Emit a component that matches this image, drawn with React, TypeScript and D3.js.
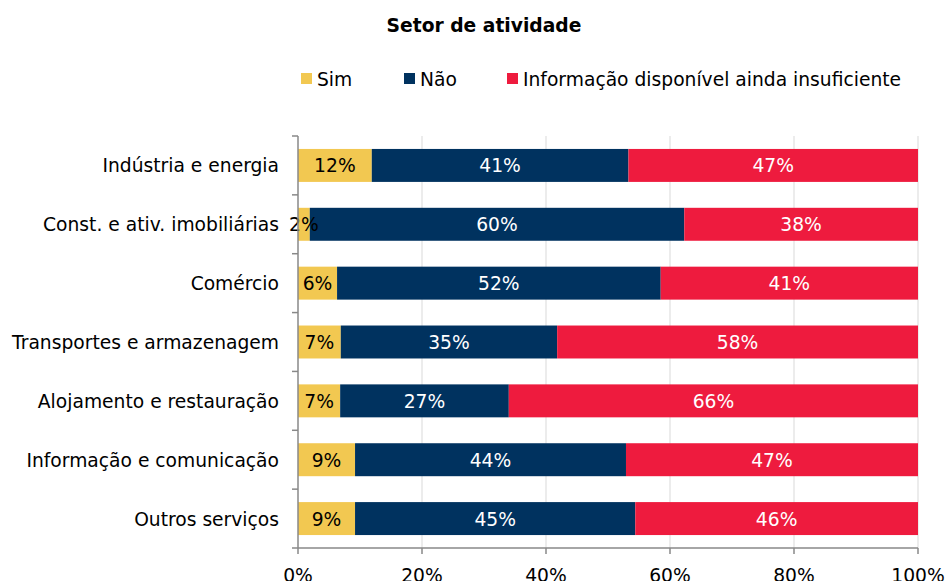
import React from "react";
import * as d3 from "d3";

const categories = [
  "Indústria e energia",
  "Const. e ativ. imobiliárias",
  "Comércio",
  "Transportes e armazenagem",
  "Alojamento e restauração",
  "Informação e comunicação",
  "Outros serviços",
];
const seriesNames = ["Sim", "Não", "Informação disponível ainda insuficiente"];
const sim = [11.9, 1.9, 6.3, 6.9, 6.8, 9.2, 9.2];
const nao = [41.4, 60.4, 52.2, 34.9, 27.2, 43.7, 45.2];
const insuf = [46.7, 37.7, 41.5, 58.2, 66.0, 47.1, 45.6];
const labelsSim = ["12%", "2%", "6%", "7%", "7%", "9%", "9%"];
const labelsNao = ["41%", "60%", "52%", "35%", "27%", "44%", "45%"];
const labelsInsuf = ["47%", "38%", "41%", "58%", "66%", "47%", "46%"];
const xTicks = [0, 20, 40, 60, 80, 100];
const colors = ["#F2C851", "#00325F", "#EE1B3E"];
const textColors = ["#000", "#fff", "#fff"];

const FONT = "'DejaVu Sans', sans-serif";

export default function App() {
  const W = 946, H = 581;
  const x = d3.scaleLinear().domain([0, 100]).range([298, 918]);
  const y = d3.scaleBand<string>().domain(categories).range([136, 548]).paddingInner(0.44).paddingOuter(0.22);
  const series = [sim, nao, insuf];
  const labels = [labelsSim, labelsNao, labelsInsuf];
  const bw = y.bandwidth();
  const step = y.step();
  const legendX = [301, 404, 507];
  return (
    <svg width={W} height={H} style={{ position: "absolute", left: 0, top: 0, fontFamily: FONT }}>
      <rect width={W} height={H} fill="#fff" />
      <text x={484} y={32} textAnchor="middle" fontWeight="bold" fontSize={18.7} fill="#000">Setor de atividade</text>
      {seriesNames.map((n, i) => (
        <g key={n}>
          <rect x={legendX[i]} y={73} width={11} height={11} fill={colors[i]} />
          <text x={legendX[i] + 16} y={86} fontSize={18.7} fill="#000">{n}</text>
        </g>
      ))}
      {xTicks.slice(1).map((t) => (
        <line key={t} x1={x(t)} x2={x(t)} y1={136} y2={548} stroke="#E6E6E6" strokeWidth={1.5} />
      ))}
      {categories.map((c, i) => {
        let cum = 0;
        return (
          <g key={c}>
            {series.map((s, k) => {
              const x0 = x(cum);
              cum += s[i];
              const x1 = x(cum);
              return (
                <rect key={k} x={x0} y={y(c)!} width={x1 - x0} height={bw} fill={colors[k]} />
              );
            })}
          </g>
        );
      })}
      {categories.map((c, i) => {
        let cum = 0;
        return (
          <g key={c + "l"}>
            {series.map((s, k) => {
              const mid = x(cum + s[i] / 2);
              cum += s[i];
              return (
                <text key={k} x={mid} y={y(c)! + bw / 2 + 7} textAnchor="middle" fontSize={18.7} fill={textColors[k]}>
                  {labels[k][i]}
                </text>
              );
            })}
            <text x={279} y={y(c)! + bw / 2 + 7} textAnchor="end" fontSize={18.7} fill="#000">{c}</text>
          </g>
        );
      })}
      <line x1={298} x2={298} y1={136} y2={548} stroke="#888" strokeWidth={1.5} />
      {d3.range(categories.length + 1).map((i) => (
        <line key={i} x1={292} x2={298} y1={136 + i * step} y2={136 + i * step} stroke="#888" strokeWidth={1.5} />
      ))}
      <line x1={298} x2={918} y1={548} y2={548} stroke="#888" strokeWidth={1.5} />
      {xTicks.map((t) => (
        <g key={t}>
          <line x1={x(t)} x2={x(t)} y1={548} y2={554} stroke="#888" strokeWidth={1.5} />
          <text x={x(t)} y={582} textAnchor="middle" fontSize={18.7} fill="#000">{t}%</text>
        </g>
      ))}
    </svg>
  );
}
